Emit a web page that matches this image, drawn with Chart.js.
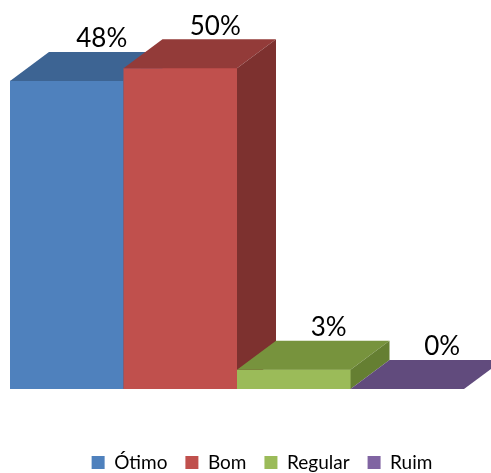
<!DOCTYPE html>
<html>
<head>
<meta charset="utf-8">
<script src="https://cdn.jsdelivr.net/npm/chart.js@4"></script>
<style>
  html, body { margin: 0; padding: 0; background: #fff; }
  canvas { display: block; }
</style>
</head>
<body>
<canvas id="chart" width="491" height="473"></canvas>
<script>
// Avaliação: one bar per answer, legend by answer
const CATEGORIES = ["Ótimo", "Bom", "Regular", "Ruim"]
const VALUES = [48, 50, 3, 0]
const FRONT = ["#4F81BD", "#C0504D", "#9BBB59", "#8064A2"]
const TOP = ["#3D6493", "#933B39", "#77933D", "#614B7D"]
const SIDE = ["#355781", "#7D312F", "#657F32", "#533F6B"]

const DEPTH_X = 39
const DEPTH_Y = -29

// Excel-style 3D: repaint each bar left to right (front, top, right side)
// so the next bar covers the previous one's side
const bar3d = {
  id: "bar3d",
  afterLayout(chart) {
    // Excel centres the legend on the plot incl. depth, a bit right of the canvas centre
    chart.legend.left += 25
    chart.legend.right += 25
  },
  afterDatasetsDraw(chart) {
    const ctx = chart.ctx
    ctx.save()
    chart.data.datasets.forEach((ds, i) => {
      chart.getDatasetMeta(i).data.forEach(bar => {
        const left = bar.x - bar.width / 2
        const right = bar.x + bar.width / 2
        const top = bar.y
        const base = bar.base

        ctx.fillStyle = FRONT[i]
        ctx.fillRect(left, top, right - left, base - top)

        ctx.fillStyle = TOP[i]
        ctx.beginPath()
        ctx.moveTo(left, top)
        ctx.lineTo(left + DEPTH_X, top + DEPTH_Y)
        ctx.lineTo(right + DEPTH_X, top + DEPTH_Y)
        ctx.lineTo(right, top)
        ctx.closePath()
        ctx.fill()

        if (base - top > 0.5) {
          ctx.fillStyle = SIDE[i]
          ctx.beginPath()
          ctx.moveTo(right, top)
          ctx.lineTo(right + DEPTH_X, top + DEPTH_Y)
          ctx.lineTo(right + DEPTH_X, base + DEPTH_Y)
          ctx.lineTo(right, base)
          ctx.closePath()
          ctx.fill()
        }
      })
    })

    ctx.font = "26px Lato"
    ctx.fillStyle = "#000"
    ctx.textAlign = "center"
    ctx.textBaseline = "middle"
    chart.data.datasets.forEach((ds, i) => {
      const bar = chart.getDatasetMeta(i).data[0]
      ctx.fillText(ds.data[0] + "%", bar.x + DEPTH_X - 4, bar.y + DEPTH_Y - 13)
    })
    ctx.restore()
  }
}

new Chart(document.getElementById("chart"), {
  type: "bar",
  data: {
    labels: [""],
    datasets: CATEGORIES.map((name, i) => ({
      label: name,
      data: [VALUES[i]],
      backgroundColor: FRONT[i],
      borderWidth: 0,
      categoryPercentage: 1,
      barPercentage: 1
    }))
  },
  options: {
    responsive: false,
    animation: false,
    devicePixelRatio: 1,
    layout: { padding: { left: 10, right: 27, top: 4, bottom: -9 } },
    scales: {
      x: {
        display: true,
        grid: { display: false },
        border: { display: false },
        ticks: { display: false },
        afterFit(scale) { scale.height = 46 }
      },
      y: { display: false, min: 0, max: 60 }
    },
    plugins: {
      tooltip: { enabled: false },
      legend: {
        position: "bottom",
        labels: {
          color: "#000",
          font: { family: "Lato", size: 19 },
          boxWidth: 13,
          boxHeight: 13,
          padding: 18
        }
      }
    }
  },
  plugins: [bar3d]
})
</script>
</body>
</html>
